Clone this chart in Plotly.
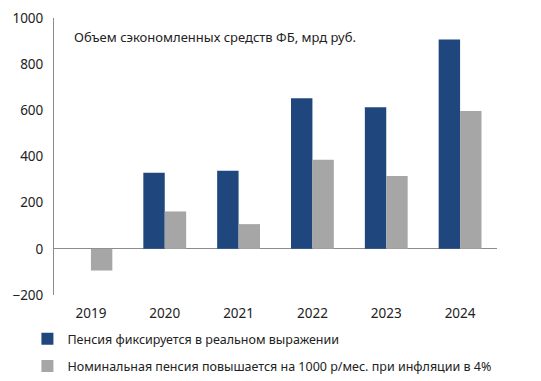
import plotly.graph_objects as go

years = ["2019", "2020", "2021", "2022", "2023", "2024"]
real_fixed = [None, 330, 338, 652, 613, 907]
nominal_up = [-94, 162, 107, 386, 315, 597]
series_names = [
    "Пенсия фиксируется в реальном выражении",
    "Номинальная пенсия повышается на 1000 р/мес. при инфляции в 4%",
]
y_ticks = [-200, 0, 200, 400, 600, 800, 1000]
title_text = "Объем сэкономленных средств ФБ, мрд руб."

FONT = "Noto Sans"
fig = go.Figure()
fig.add_trace(go.Bar(x=years, y=real_fixed, name=series_names[0],
                     marker=dict(color="#1f477d", line=dict(width=0)),
                     legendgroup="a"))
fig.add_trace(go.Bar(x=years, y=nominal_up, name=series_names[1],
                     marker=dict(color="#a6a6a6", line=dict(width=0)),
                     legendgroup="b"))

fig.update_layout(
    width=533, height=373,
    margin=dict(l=46, r=44, t=10, b=86, autoexpand=False),
    plot_bgcolor="white", paper_bgcolor="white",
    barmode="group", bargap=0.42, bargroupgap=0,
    font=dict(family=FONT, size=13, color="#222222"),
    showlegend=True,
    legend=dict(orientation="v", x=-0.06, y=-0.105, xanchor="left", yanchor="top",
                font=dict(size=12.5, color="#222222"), itemwidth=30,
                tracegroupgap=8, bgcolor="rgba(0,0,0,0)"),
    xaxis=dict(showgrid=False, showline=False, ticks="outside", ticklen=6,
               tickcolor="rgba(0,0,0,0)", tickfont=dict(size=13.5),
               automargin=False),
    yaxis=dict(range=[-200, 1000], tickvals=y_ticks, showgrid=False,
               showline=True, linecolor="#8c8c8c", linewidth=1,
               zeroline=True, zerolinecolor="#8c8c8c", zerolinewidth=1,
               ticks="", ticklabelstandoff=7, tickfont=dict(size=13.5),
               automargin=False),
    annotations=[dict(text=title_text, xref="paper", yref="paper",
                      x=0.04, y=0.93, xanchor="left", yanchor="middle",
                      showarrow=False, font=dict(size=13, color="#222222"))],
)
fig.write_html("out.html")
